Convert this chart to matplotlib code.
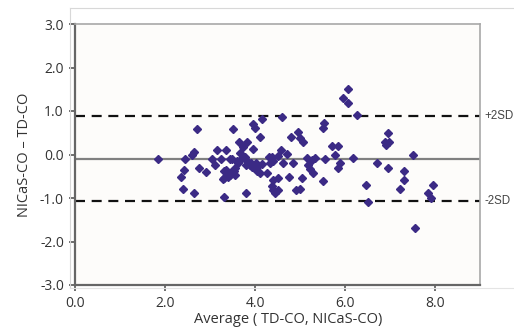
import matplotlib
matplotlib.use("Agg")
import matplotlib.pyplot as plt
from matplotlib.lines import Line2D

# Bland-Altman data
avg = [1.85, 2.36, 2.39, 2.43, 2.44, 2.59, 2.64, 2.65, 2.70, 2.76, 2.90, 3.05, 3.11, 3.15,
       3.24, 3.28, 3.30, 3.31, 3.36, 3.36, 3.30, 3.41, 3.44, 3.52, 3.56, 3.53, 3.44, 3.48,
       3.50, 3.59, 3.63, 3.65, 3.67, 3.74, 3.78, 3.80, 3.81, 3.81, 3.83, 3.89, 3.93, 3.96,
       3.96, 4.00, 4.04, 4.05, 4.10, 4.11, 4.15, 4.15, 4.26, 4.30, 4.33, 4.37, 4.37, 4.41,
       4.41, 4.41, 4.44, 4.50, 4.52, 4.52, 4.57, 4.59, 4.63, 4.70, 4.76, 4.79, 4.85, 4.91,
       4.96, 5.01, 5.01, 5.04, 5.07, 5.15, 5.18, 5.22, 5.26, 5.28, 5.33, 5.50, 5.53, 5.52,
       5.56, 5.70, 5.78, 5.84, 5.85, 5.89, 5.96, 6.06, 6.06, 6.18, 6.26, 6.46, 6.50, 6.70,
       6.89, 6.91, 6.96, 6.98, 6.96, 7.22, 7.32, 7.32, 7.52, 7.56, 7.85, 7.91, 7.96,
       3.46, 3.55, 3.92, 4.02, 3.70]
diff = [-0.11, -0.51, -0.80, -0.36, -0.11, 0.00, 0.05, -0.88, 0.59, -0.30, -0.41, -0.10, -0.24, 0.10,
        -0.10, -0.57, -0.39, -0.97, 0.10, -0.36, -0.55, -0.51, -0.47, -0.37, -0.47, -0.39, -0.11, -0.11,
        0.59, -0.16, -0.19, 0.29, 0.03, 0.18, -0.05, -0.23, -0.13, -0.88, 0.29, -0.24, -0.29, 0.70,
        0.12, 0.60, -0.29, -0.39, -0.43, 0.40, 0.82, -0.22, -0.42, -0.05, -0.20, -0.05, -0.72, -0.16,
        -0.59, -0.82, -0.89, -0.03, -0.55, -0.82, 0.10, 0.86, -0.19, 0.01, -0.51, 0.41, -0.19, -0.82,
        0.52, 0.37, -0.80, -0.55, 0.29, -0.09, -0.24, -0.34, -0.13, -0.42, -0.09, 0.60, 0.72, -0.60,
        -0.11, 0.20, 0.00, 0.20, -0.30, -0.20, 1.31, 1.50, 1.18, -0.07, 0.91, -0.70, -1.10, -0.20,
        0.29, 0.22, 0.50, 0.29, -0.30, -0.79, -0.39, -0.59, 0.00, -1.70, -0.89, -1.01, -0.70,
        -0.40, -0.30, -0.20, -0.20, -0.08]

mean_diff = -0.10
upper_loa = 0.88
lower_loa = -1.08

xticks = [0.0, 2.0, 4.0, 6.0, 8.0]
yticks = [-3.0, -2.0, -1.0, 0.0, 1.0, 2.0, 3.0]

W, H = 514, 333
fig = plt.figure(figsize=(W / 100, H / 100), dpi=100)
fig.patch.set_facecolor("white")
ax = fig.add_axes([75 / W, 1 - 285 / H, (480 - 75) / W, (285 - 24) / H])
ax.set_facecolor("#fdfcfa")

# outer light frame
fig.add_artist(Line2D([70 / W, 70 / W], [1 - 288 / H, 1 - 8 / H], color="#d8d8d8", lw=0.8))
fig.add_artist(Line2D([70 / W, 1.0], [1 - 8 / H, 1 - 8 / H], color="#d8d8d8", lw=0.8))
fig.add_artist(Line2D([70 / W, 1.0], [1 - 288 / H, 1 - 288 / H], color="#e4e4e4", lw=0.8))

ax.axhline(mean_diff, color="#808080", lw=1.6, zorder=1)
ax.axhline(upper_loa, color="#111111", lw=1.6, ls=(0, (4.5, 3)), zorder=1)
ax.axhline(lower_loa, color="#111111", lw=1.6, ls=(0, (4.5, 3)), zorder=1)

ax.plot(avg, diff, ls="none", marker="D", ms=4.2, color="#3b2a85", mec="#3b2a85", zorder=3)

ax.set_xlim(0, 9)
ax.set_ylim(-3, 3)
ax.set_xticks(xticks)
ax.set_yticks(yticks)
ax.set_xticklabels([f"{v:.1f}" for v in xticks])
ax.set_yticklabels([f"{v:.1f}" for v in yticks])

fam = ["Open Sans", "DejaVu Sans"]
for lab in ax.get_xticklabels() + ax.get_yticklabels():
    lab.set_family(fam)
    lab.set_fontsize(10)
    lab.set_color("#333333")

ax.tick_params(axis="both", direction="out", length=4, width=1.2, color="#555555", pad=4)

for s in ["left", "bottom"]:
    ax.spines[s].set_color("#666666")
    ax.spines[s].set_linewidth(1.6)
for s in ["top", "right"]:
    ax.spines[s].set_color("#a8a8a8")
    ax.spines[s].set_linewidth(1.2)

ax.set_xlabel("Average ( TD-CO, NICaS-CO)", family=fam, fontsize=10.5, color="#333333", labelpad=2)
ax.set_ylabel("NICaS-CO \u2013 TD-CO", family=fam, fontsize=10.5, color="#333333", labelpad=6)
ax.xaxis.set_label_coords(0.527, -0.105)

sd_fam = ["Liberation Sans", "DejaVu Sans"]
ax.text(1.01, upper_loa, "+2SD", transform=ax.get_yaxis_transform(), va="center", ha="left",
        fontsize=8.3, color="#444444", family=sd_fam, clip_on=False)
ax.text(1.01, lower_loa, "-2SD", transform=ax.get_yaxis_transform(), va="center", ha="left",
        fontsize=8.3, color="#444444", family=sd_fam, clip_on=False)

fig.savefig("out.png", dpi=100)
